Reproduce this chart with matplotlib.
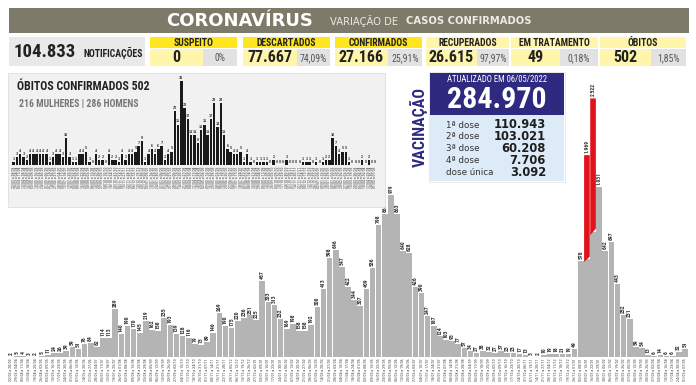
import numpy as np
import pandas as pd
import matplotlib
matplotlib.use("Agg")
import matplotlib.pyplot as plt
from matplotlib.patches import Rectangle, Polygon
from matplotlib import font_manager

# ---- dados ----
casos = [2, 5, 4, 3, 2, 5, 11, 24, 26, 39, 59, 51, 76, 84, 62, 114, 113, 289,
         140, 190, 170, 145, 219, 162, 158, 235, 193, 139, 128, 116, 79, 73, 89, 146, 269, 190, 175,
         220, 236, 251, 225, 457, 333, 313, 232, 169, 198, 158, 158, 192, 300, 413, 598, 646, 547,
         422, 344, 307, 409, 536, 798, 863, 979, 863, 640, 628, 426, 390, 247, 187, 124, 103, 95,
         77, 57, 34, 27, 38, 32, 27, 37, 23, 23, 17, 13, 3, 2, 10, 19, 18, 21, 19,
         49, 578, 1969, 2522, 1031, 642, 697, 443, 252, 231, 59, 54, 13, 6, 14, 6, 6, 32, 51]
destaque = [94, 95]          # semanas com barra vermelha (cortada)

obitos = [1, 3, 4, 3, 2, 4, 4, 4, 4, 4, 4, 1, 3, 4, 4, 3, 10, 3, 1, 1, 4, 4, 5, 1, 0,
          4, 2, 2, 0, 4, 2, 2, 1, 4, 2, 4, 4, 5, 7, 9, 1, 4, 6, 4, 6, 7, 2, 4, 5,
          20, 15, 31, 21, 17, 11, 11, 8, 13, 15, 11, 17, 23, 14, 23, 11, 6, 5, 4, 4, 5, 1, 4, 1,
          0, 1, 1, 1, 1, 0, 2, 0, 0, 0, 2, 0, 0, 0, 0, 1, 1, 1, 0, 1, 0, 1, 2, 2,
          10, 7, 4, 5, 5, 1, 0, 0, 0, 2, 0, 2, 0, 0]

semanas_fim = pd.date_range(end="2022-05-07", periods=len(casos), freq="7D")
datas = [(d - pd.Timedelta(days=6)).strftime("%d/%m") + " a " + d.strftime("%d/%m") for d in semanas_fim]

notificacoes = "104.833"
stat_nomes = ["SUSPEITO", "DESCARTADOS", "CONFIRMADOS", "RECUPERADOS", "EM TRATAMENTO", "ÓBITOS"]
stat_valores = ["0", "77.667", "27.166", "26.615", "49", "502"]
stat_pcts = ["0%", "74,09%", "25,91%", "97,97%", "0,18%", "1,85%"]

vac_total = "284.970"
vac_data = "ATUALIZADO EM 06/05/2022"
doses = ["1ª dose", "2ª dose", "3ª dose", "4ª dose", "dose única"]
doses_val = ["110.943", "103.021", "60.208", "7.706", "3.092"]

# ---- estilo ----
nomes = {f.name for f in font_manager.fontManager.ttflist}
NARROW = [f for f in ["Roboto Condensed", "Liberation Sans Narrow", "Roboto"] if f in nomes][:1] + ["DejaVu Sans"]

CINZA = "#b4b4b4"
VERM = "#e0121b"
AZUL = "#2d2a80"
AZUL_CLARO = "#dcebf7"
OLIVA = "#7d7a69"
AMAR = "#ffe61e"
AMAR_CLARO = "#fff5ab"
CINZA_CEL = "#e2e2e2"

W, H = 696, 385
fig = plt.figure(figsize=(W / 100, H / 100), dpi=100)


def px_axes(x0, y0, x1, y1):
    return fig.add_axes([x0 / W, 1 - y1 / H, (x1 - x0) / W, (y1 - y0) / H])


def fmt(v):
    return f"{v:,}".replace(",", ".")


# ---- grafico principal de casos ----
ax = px_axes(8, 85, 688, 357)
n = len(casos)
x = np.arange(n)
escala = 0.62     # compressao das barras cortadas
corte = 0.30      # onde comeca o vermelho
alturas = [c * corte if i in destaque else c for i, c in enumerate(casos)]
ax.bar(x, alturas, width=0.92, color=CINZA, edgecolor="none")
for i, c in enumerate(casos):
    if i in destaque:
        topo = c * escala
        base = c * corte
        inc = 0.008 * c
        ax.add_patch(Polygon([(i - 0.46, base - inc), (i + 0.46, base + inc),
                              (i + 0.46, topo), (i - 0.46, topo)],
                             closed=True, facecolor=VERM, edgecolor="none"))
        ytxt = topo
    else:
        ytxt = c
    ax.text(i, ytxt + 12, fmt(c), rotation=90, ha="center", va="bottom",
            fontsize=4.1, fontweight="bold", color="#333333", family=NARROW,
            bbox=dict(boxstyle="square,pad=0.04", fc="white", ec="none"))
ax.set_xlim(-0.5, n - 0.5)
ax.set_ylim(0, 1645)
ax.set_xticks(x)
ax.set_xticklabels(datas, rotation=90, fontsize=2.9, color="#444444", family=NARROW)
ax.tick_params(axis="x", length=0, pad=1.2)
ax.set_yticks([])
for s in ax.spines.values():
    s.set_visible(False)
ax.patch.set_alpha(0)

# ---- camada de layout (coordenadas em pixels) ----
ov = px_axes(0, 0, W, H)
ov.set_xlim(0, W)
ov.set_ylim(H, 0)
ov.axis("off")
ov.patch.set_alpha(0)

# faixa de titulo
ov.add_patch(Rectangle((9, 8), 680, 25, fc=OLIVA, ec="none"))
ov.text(240, 21, "CORONAVÍRUS", ha="center", va="center", fontsize=13,
        fontweight="bold", color="white")
ov.text(330, 21, "VARIAÇÃO DE", ha="left", va="center", fontsize=7.2, color="#ecebe4")
ov.text(406, 21, "CASOS CONFIRMADOS", ha="left", va="center", fontsize=7.2,
        fontweight="bold", color="#ecebe4")

# notificacoes
ov.add_patch(Rectangle((9, 37), 136, 29, fc="#e9e9e9", ec="none"))
ov.text(14, 52, notificacoes, ha="left", va="center", fontsize=13.5, fontweight="bold",
        color="#222222", family=NARROW)
ov.text(143, 53, "NOTIFICAÇÕES", ha="right", va="center", fontsize=7, fontweight="bold",
        color="#222222", family=NARROW)

# quadros de status
caixas = [(150, 203, 237), (243, 297, 330), (335, 388, 422),
          (426, 477, 509), (511, 560, 598), (600, 651, 686)]
for k, (x0, xs, x1) in enumerate(caixas):
    cab = AMAR if k < 3 else AMAR_CLARO
    ov.add_patch(Rectangle((x0, 37), x1 - x0, 11, fc=cab, ec="none"))
    ov.add_patch(Rectangle((x0, 49), xs - x0, 17, fc=AMAR_CLARO, ec="none"))
    ov.add_patch(Rectangle((xs, 49), x1 - xs, 17, fc=CINZA_CEL, ec="none"))
    ov.text((x0 + x1) / 2, 43, stat_nomes[k], ha="center", va="center", fontsize=7,
            fontweight="bold", color="#222222", family=NARROW)
    ov.text((x0 + xs) / 2, 58, stat_valores[k], ha="center", va="center", fontsize=11.5,
            fontweight="bold", color="#222222", family=NARROW)
    ov.text((xs + x1) / 2, 58, stat_pcts[k], ha="center", va="center", fontsize=7,
            color="#555555", family=NARROW)

# painel de obitos
ov.add_patch(Rectangle((8, 73), 377, 134, fc="#f1f1f1", ec="#dedede", lw=0.6))
ov.text(17, 87, "ÓBITOS CONFIRMADOS 502", ha="left", va="center",
        fontsize=8.6, fontweight="bold", color="#222222", family=NARROW)
ov.text(19, 104, "216 MULHERES | 286 HOMENS", ha="left", va="center", fontsize=7,
        fontweight="bold", color="#777777", family=NARROW)

# vacinacao
ov.add_patch(Rectangle((430, 73), 134, 42, fc=AZUL, ec="none"))
ov.add_patch(Rectangle((430, 115), 134, 66, fc=AZUL_CLARO, ec="none"))
ov.add_patch(Rectangle((429, 72), 136, 110, fc="none", ec="#e4e4e4", lw=0.6))
ov.text(419, 127, "VACINAÇÃO", rotation=90, ha="center", va="center", fontsize=11.5,
        fontweight="bold", color=AZUL, family=NARROW)
ov.text(497, 80, vac_data, ha="center", va="center", fontsize=6.2, color="white",
        family=NARROW)
ov.text(497, 100, vac_total, ha="center", va="center", fontsize=21.5, fontweight="bold",
        color="white", family=NARROW)
for j, (d, v) in enumerate(zip(doses, doses_val)):
    yy = 125 + j * 11.8
    ov.text(446, yy, d, ha="left", va="center", fontsize=6.3, color="#333333")
    ov.text(546, yy, v, ha="right", va="center", fontsize=8.3, fontweight="bold",
            color="#1e1e1e")

# ---- grafico de obitos ----
ax2 = px_axes(12, 76, 377, 165)
m = len(obitos)
ax2.bar(np.arange(m), obitos, width=0.75, color="#1a1a1a", edgecolor="none")
for i, v in enumerate(obitos):
    ax2.text(i, v + 0.4, str(v), ha="center", va="bottom", fontsize=2.2,
             color="#333333", fontweight="bold")
ax2.set_xlim(-0.5, m - 0.5)
ax2.set_ylim(0, 33)
ax2.set_xticks(np.arange(m))
ax2.set_xticklabels(datas[:m], rotation=90, fontsize=2.7, color="#444444", family=NARROW)
ax2.tick_params(axis="x", length=0, pad=1)
ax2.set_yticks([])
for s in ax2.spines.values():
    s.set_visible(False)
ax2.patch.set_alpha(0)

fig.savefig("out.png", dpi=100)
